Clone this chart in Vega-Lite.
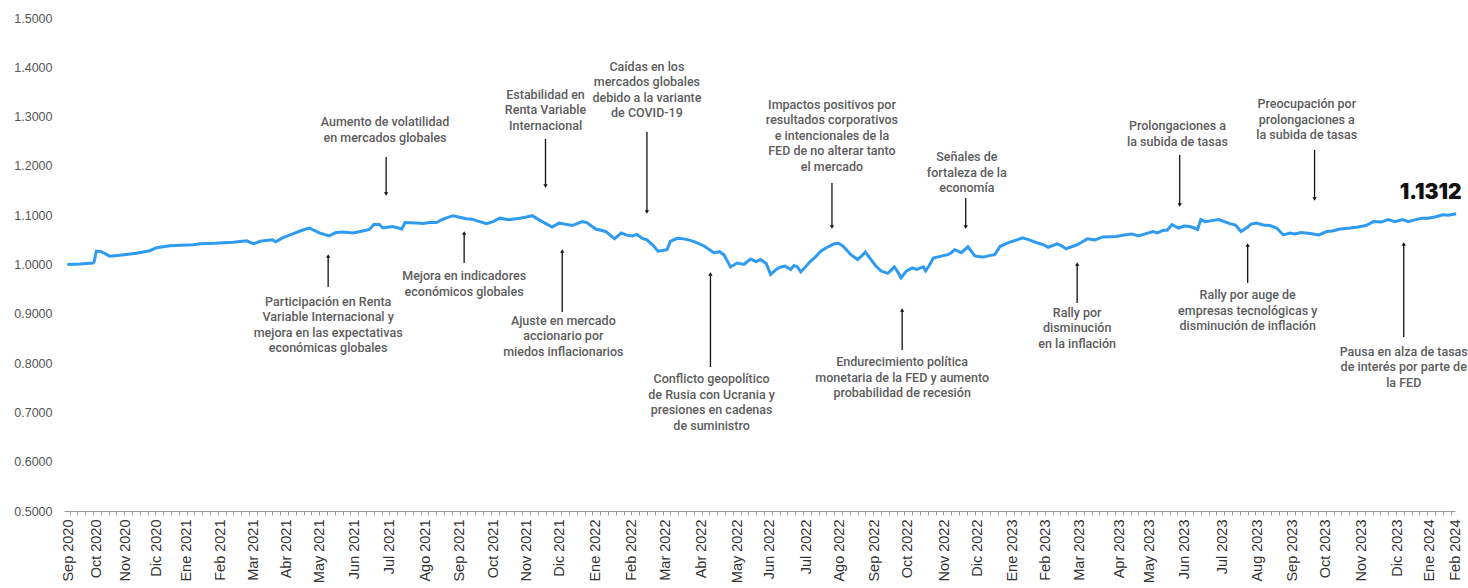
{
  "$schema": "https://vega.github.io/schema/vega-lite/v6.json",
  "width": 1391,
  "height": 493,
  "autosize": {"type": "none"},
  "padding": {"left": 64, "top": 18, "right": 13, "bottom": 77},
  "background": "white",
  "config": {
    "view": {"stroke": null},
    "axisY": {
      "title": null,
      "grid": false,
      "domain": false,
      "ticks": false,
      "values": [0.5,0.6,0.7,0.8,0.9,1.0,1.1,1.2,1.3,1.4,1.5],
      "format": ".4f",
      "labelPadding": 12,
      "labelFont": "Liberation Sans",
      "labelFontSize": 12.5,
      "labelColor": "#555555"
    }
  },
  "datasets": {
    "serie": [
      {"d":"2020-09-04","v":1.000},{"d":"2020-09-15","v":1.001},{"d":"2020-09-27","v":1.003},{"d":"2020-09-28","v":1.005},
      {"d":"2020-09-30","v":1.027},{"d":"2020-10-03","v":1.027},{"d":"2020-10-07","v":1.023},{"d":"2020-10-12","v":1.017},
      {"d":"2020-10-25","v":1.020},{"d":"2020-11-05","v":1.023},{"d":"2020-11-17","v":1.028},{"d":"2020-11-23","v":1.034},
      {"d":"2020-12-05","v":1.038},{"d":"2020-12-15","v":1.039},{"d":"2020-12-26","v":1.040},{"d":"2021-01-01","v":1.042},{"d":"2021-01-15","v":1.043},
      {"d":"2021-01-22","v":1.044},{"d":"2021-01-31","v":1.045},{"d":"2021-02-12","v":1.048},{"d":"2021-02-18","v":1.042},{"d":"2021-02-24","v":1.047},
      {"d":"2021-03-07","v":1.050},{"d":"2021-03-10","v":1.046},{"d":"2021-03-16","v":1.054},{"d":"2021-03-23","v":1.060},
      {"d":"2021-04-02","v":1.069},{"d":"2021-04-09","v":1.074},{"d":"2021-04-18","v":1.064},{"d":"2021-04-27","v":1.058},
      {"d":"2021-05-03","v":1.065},{"d":"2021-05-10","v":1.066},{"d":"2021-05-18","v":1.064},{"d":"2021-05-25","v":1.067},{"d":"2021-06-02","v":1.071},{"d":"2021-06-06","v":1.081},
      {"d":"2021-06-11","v":1.081},{"d":"2021-06-14","v":1.074},{"d":"2021-06-23","v":1.077},{"d":"2021-07-01","v":1.072},
      {"d":"2021-07-04","v":1.085},{"d":"2021-07-14","v":1.084},{"d":"2021-07-20","v":1.083},{"d":"2021-07-26","v":1.085},{"d":"2021-08-01","v":1.085},{"d":"2021-08-07","v":1.092},
      {"d":"2021-08-16","v":1.099},{"d":"2021-08-22","v":1.096},{"d":"2021-08-28","v":1.093},{"d":"2021-09-02","v":1.092},{"d":"2021-09-06","v":1.089},{"d":"2021-09-15","v":1.083},
      {"d":"2021-09-21","v":1.087},{"d":"2021-09-27","v":1.094},{"d":"2021-10-05","v":1.091},{"d":"2021-10-15","v":1.094},{"d":"2021-10-20","v":1.096},{"d":"2021-10-26","v":1.099},
      {"d":"2021-11-04","v":1.087},{"d":"2021-11-13","v":1.076},{"d":"2021-11-19","v":1.084},{"d":"2021-12-01","v":1.079},
      {"d":"2021-12-10","v":1.087},{"d":"2021-12-14","v":1.085},{"d":"2021-12-22","v":1.072},{"d":"2021-12-31","v":1.067},
      {"d":"2022-01-08","v":1.052},{"d":"2022-01-14","v":1.064},{"d":"2022-01-18","v":1.060},{"d":"2022-01-24","v":1.058},{"d":"2022-01-28","v":1.061},{"d":"2022-02-02","v":1.053},{"d":"2022-02-06","v":1.050},
      {"d":"2022-02-11","v":1.040},{"d":"2022-02-16","v":1.027},{"d":"2022-02-24","v":1.030},{"d":"2022-02-27","v":1.047},
      {"d":"2022-03-05","v":1.053},{"d":"2022-03-11","v":1.052},{"d":"2022-03-17","v":1.049},{"d":"2022-03-22","v":1.045},{"d":"2022-03-29","v":1.038},{"d":"2022-04-07","v":1.024},
      {"d":"2022-04-12","v":1.026},{"d":"2022-04-16","v":1.020},{"d":"2022-04-22","v":0.995},{"d":"2022-04-28","v":1.003},{"d":"2022-05-04","v":1.000},
      {"d":"2022-05-10","v":1.011},{"d":"2022-05-15","v":1.006},{"d":"2022-05-19","v":1.010},{"d":"2022-05-24","v":1.002},{"d":"2022-05-28","v":0.980},{"d":"2022-06-02","v":0.990},{"d":"2022-06-06","v":0.995},
      {"d":"2022-06-10","v":0.997},{"d":"2022-06-15","v":0.990},{"d":"2022-06-18","v":0.998},{"d":"2022-06-21","v":0.995},{"d":"2022-06-24","v":0.985},{"d":"2022-07-03","v":1.007},
      {"d":"2022-07-07","v":1.015},{"d":"2022-07-12","v":1.027},{"d":"2022-07-17","v":1.034},{"d":"2022-07-24","v":1.042},{"d":"2022-07-28","v":1.043},{"d":"2022-08-01","v":1.037},{"d":"2022-08-04","v":1.030},{"d":"2022-08-08","v":1.020},
      {"d":"2022-08-14","v":1.010},{"d":"2022-08-18","v":1.018},{"d":"2022-08-21","v":1.025},{"d":"2022-08-26","v":1.010},{"d":"2022-08-30","v":0.998},{"d":"2022-09-04","v":0.987},
      {"d":"2022-09-10","v":0.982},{"d":"2022-09-13","v":0.988},{"d":"2022-09-16","v":0.995},{"d":"2022-09-19","v":0.985},{"d":"2022-09-22","v":0.973},{"d":"2022-09-27","v":0.987},
      {"d":"2022-10-02","v":0.993},{"d":"2022-10-06","v":0.990},{"d":"2022-10-12","v":0.995},{"d":"2022-10-14","v":0.987},{"d":"2022-10-17","v":0.997},
      {"d":"2022-10-21","v":1.013},{"d":"2022-10-28","v":1.017},{"d":"2022-11-03","v":1.020},{"d":"2022-11-06","v":1.024},{"d":"2022-11-09","v":1.030},
      {"d":"2022-11-15","v":1.024},{"d":"2022-11-21","v":1.036},{"d":"2022-11-27","v":1.018},{"d":"2022-11-30","v":1.016},{"d":"2022-12-05","v":1.015},{"d":"2022-12-10","v":1.018},
      {"d":"2022-12-15","v":1.020},{"d":"2022-12-20","v":1.037},{"d":"2022-12-28","v":1.045},{"d":"2023-01-04","v":1.050},{"d":"2023-01-09","v":1.054},
      {"d":"2023-01-15","v":1.050},{"d":"2023-01-22","v":1.044},{"d":"2023-01-28","v":1.040},{"d":"2023-02-01","v":1.035},{"d":"2023-02-09","v":1.042},
      {"d":"2023-02-13","v":1.038},{"d":"2023-02-17","v":1.032},{"d":"2023-02-22","v":1.036},{"d":"2023-02-27","v":1.040},{"d":"2023-03-03","v":1.045},{"d":"2023-03-08","v":1.052},{"d":"2023-03-15","v":1.050},{"d":"2023-03-22","v":1.056},
      {"d":"2023-04-03","v":1.057},{"d":"2023-04-10","v":1.060},{"d":"2023-04-17","v":1.062},{"d":"2023-04-23","v":1.058},{"d":"2023-04-29","v":1.062},{"d":"2023-05-06","v":1.067},
      {"d":"2023-05-10","v":1.064},{"d":"2023-05-15","v":1.069},{"d":"2023-05-19","v":1.070},{"d":"2023-05-23","v":1.081},{"d":"2023-05-29","v":1.074},{"d":"2023-06-03","v":1.078},{"d":"2023-06-08","v":1.077},
      {"d":"2023-06-12","v":1.074},{"d":"2023-06-15","v":1.071},{"d":"2023-06-18","v":1.091},{"d":"2023-06-22","v":1.087},{"d":"2023-06-28","v":1.089},{"d":"2023-07-04","v":1.091},
      {"d":"2023-07-08","v":1.088},{"d":"2023-07-14","v":1.083},{"d":"2023-07-19","v":1.080},{"d":"2023-07-24","v":1.067},{"d":"2023-07-30","v":1.076},{"d":"2023-08-02","v":1.082},{"d":"2023-08-07","v":1.084},
      {"d":"2023-08-13","v":1.080},{"d":"2023-08-19","v":1.079},{"d":"2023-08-25","v":1.074},{"d":"2023-08-31","v":1.060},{"d":"2023-09-06","v":1.064},{"d":"2023-09-10","v":1.062},
      {"d":"2023-09-16","v":1.065},{"d":"2023-09-24","v":1.063},{"d":"2023-10-02","v":1.060},{"d":"2023-10-09","v":1.067},{"d":"2023-10-14","v":1.068},{"d":"2023-10-21","v":1.072},
      {"d":"2023-10-30","v":1.074},{"d":"2023-11-06","v":1.076},{"d":"2023-11-13","v":1.079},{"d":"2023-11-20","v":1.087},{"d":"2023-11-27","v":1.086},{"d":"2023-12-03","v":1.091},{"d":"2023-12-09","v":1.087},
      {"d":"2023-12-16","v":1.091},{"d":"2023-12-21","v":1.087},{"d":"2023-12-26","v":1.090},{"d":"2024-01-02","v":1.094},{"d":"2024-01-08","v":1.094},{"d":"2024-01-15","v":1.097},
      {"d":"2024-01-21","v":1.101},{"d":"2024-01-26","v":1.100},{"d":"2024-02-02","v":1.103}
    ],
    "flechas": [
      {"d":"2021-06-17","y1":1.2181,"y2":1.1430,"s":"triangle-down"},
      {"d":"2021-04-26","y1":0.9544,"y2":1.0173,"s":"triangle-up"},
      {"d":"2021-08-26","y1":1.0030,"y2":1.0639,"s":"triangle-up"},
      {"d":"2021-11-07","y1":1.2546,"y2":1.1592,"s":"triangle-down"},
      {"d":"2022-02-06","y1":1.2688,"y2":1.1065,"s":"triangle-down"},
      {"d":"2021-11-22","y1":0.9037,"y2":1.0274,"s":"triangle-up"},
      {"d":"2022-04-04","y1":0.7921,"y2":0.9808,"s":"triangle-up"},
      {"d":"2022-07-22","y1":1.1653,"y2":1.0760,"s":"triangle-down"},
      {"d":"2022-09-23","y1":0.8266,"y2":0.9077,"s":"triangle-up"},
      {"d":"2022-11-19","y1":1.1349,"y2":1.0760,"s":"triangle-down"},
      {"d":"2023-02-27","y1":0.9219,"y2":1.0010,"s":"triangle-up"},
      {"d":"2023-05-30","y1":1.2221,"y2":1.1207,"s":"triangle-down"},
      {"d":"2023-07-30","y1":0.9625,"y2":1.0396,"s":"triangle-up"},
      {"d":"2023-09-28","y1":1.2323,"y2":1.1328,"s":"triangle-down"},
      {"d":"2023-12-17","y1":0.8529,"y2":1.0416,"s":"triangle-up"}
    ],
    "notas": [
      {"d":"2021-06-16","y":1.3012,"t":"Aumento de volatilidad\nen mercados globales"},
      {"d":"2021-04-26","y":0.9367,"t":"Participación en Renta\nVariable Internacional y\nmejora en las expectativas\neconómicas globales"},
      {"d":"2021-08-26","y":0.9888,"t":"Mejora en indicadores\neconómicos globales"},
      {"d":"2021-11-07","y":1.3560,"t":"Estabilidad en\nRenta Variable\nInternacional"},
      {"d":"2022-02-06","y":1.4128,"t":"Caídas en los\nmercados globales\ndebido a la variante\nde COVID-19"},
      {"d":"2021-11-23","y":0.8976,"t":"Ajuste en mercado\naccionario por\nmiedos inflacionarios"},
      {"d":"2022-04-05","y":0.7799,"t":"Conflicto geopolítico\nde Rusia con Ucrania y\npresiones en cadenas\nde suministro"},
      {"d":"2022-07-22","y":1.3357,"t":"Impactos positivos por\nresultados corporativos\ne  intencionales de la\nFED de no alterar tanto\nel mercado"},
      {"d":"2022-09-23","y":0.8144,"t":"Endurecimiento política\nmonetaria de la FED y aumento\nprobabilidad de recesión"},
      {"d":"2022-11-20","y":1.2302,"t":"Señales de\nfortaleza de la\neconomía"},
      {"d":"2023-02-27","y":0.9138,"t":"Rally por\ndisminución\nen la inflación"},
      {"d":"2023-05-28","y":1.2931,"t":"Prolongaciones a\nla subida de tasas"},
      {"d":"2023-07-30","y":0.9503,"t":"Rally por auge de\nempresas tecnológicas y\ndisminución de inflación"},
      {"d":"2023-09-21","y":1.3377,"t":"Preocupación por\nprolongaciones a\nla subida de tasas"},
      {"d":"2023-12-17","y":0.8347,"t":"Pausa en alza de tasas\nde interés por parte de\nla FED"}
    ],
    "valor": [
      {"d":"2024-02-07","y":1.145,"t":"1.1312"}
    ]
  },
  "layer": [
    {
      "data": {"name": "serie"},
      "mark": {"type": "line", "color": "#2E9BF0", "strokeWidth": 3, "interpolate": "linear"},
      "encoding": {
        "x": {
          "field": "d", "type": "temporal",
          "scale": {"domain": [{"year":2020,"month":9,"date":1},{"year":2024,"month":2,"date":1}]},
          "axis": {
            "orient": "bottom",
            "title": null,
            "grid": false,
            "domain": false,
            "ticks": false,
            "labelAngle": 270,
            "labelAlign": "right",
            "labelBaseline": "middle",
            "labelPadding": 8,
            "labelFont": "Liberation Sans",
            "labelFontSize": 14.5,
            "labelColor": "#333333",
            "labelOverlap": false,
            "labelBound": false,
            "labelFlush": false,
            "values": [
              {"year":2020,"month":9,"date":5},{"year":2020,"month":9,"date":30},{"year":2020,"month":10,"date":26},{"year":2020,"month":11,"date":23},
              {"year":2020,"month":12,"date":20},{"year":2021,"month":1,"date":19},{"year":2021,"month":2,"date":18},{"year":2021,"month":3,"date":20},
              {"year":2021,"month":4,"date":18},{"year":2021,"month":5,"date":20},{"year":2021,"month":6,"date":20},{"year":2021,"month":7,"date":22},
              {"year":2021,"month":8,"date":22},{"year":2021,"month":9,"date":21},{"year":2021,"month":10,"date":21},{"year":2021,"month":11,"date":20},
              {"year":2021,"month":12,"date":22},{"year":2022,"month":1,"date":23},{"year":2022,"month":2,"date":23},{"year":2022,"month":3,"date":27},
              {"year":2022,"month":4,"date":28},{"year":2022,"month":5,"date":27},{"year":2022,"month":6,"date":29},{"year":2022,"month":7,"date":29},
              {"year":2022,"month":8,"date":29},{"year":2022,"month":9,"date":28},{"year":2022,"month":10,"date":31},{"year":2022,"month":11,"date":30},
              {"year":2022,"month":12,"date":31},{"year":2023,"month":1,"date":30},{"year":2023,"month":3,"date":1},{"year":2023,"month":4,"date":6},
              {"year":2023,"month":5,"date":3},{"year":2023,"month":6,"date":3},{"year":2023,"month":7,"date":7},{"year":2023,"month":8,"date":8},
              {"year":2023,"month":9,"date":8},{"year":2023,"month":10,"date":8},{"year":2023,"month":11,"date":9},{"year":2023,"month":12,"date":11},
              {"year":2024,"month":1,"date":9},{"year":2024,"month":2,"date":1}
            ],
            "labelExpr": "['Sep 2020','Oct 2020','Nov 2020','Dic 2020','Ene 2021','Feb 2021','Mar 2021','Abr 2021','May 2021','Jun 2021','Jul 2021','Ago 2021','Sep 2021','Oct 2021','Nov 2021','Dic 2021','Ene 2022','Feb 2022','Mar 2022','Abr 2022','May 2022','Jun 2022','Jul 2022','Ago 2022','Sep 2022','Oct 2022','Nov 2022','Dic 2022','Ene 2023','Feb 2023','Mar 2023','Apr 2023','May 2023','Jun 2023','Jul 2023','Aug 2023','Sep 2023','Oct 2023','Nov 2023','Dic 2023','Ene 2024','Feb 2024'][round(datum.index*41)]"
          }
        },
        "y": {
          "field": "v", "type": "quantitative", "title": null,
          "scale": {"domain": [0.5, 1.5], "nice": false, "zero": false}
        }
      }
    },
    {
      "data": {"name": "flechas"},
      "mark": {"type": "rule", "color": "#111111", "strokeWidth": 1.3},
      "encoding": {
        "x": {
          "field": "d", "type": "temporal",
          "scale": {"domain": [{"year":2020,"month":9,"date":1},{"year":2024,"month":2,"date":1}]},
          "axis": {
            "orient": "bottom",
            "title": null,
            "grid": false,
            "labels": false,
            "domain": true,
            "domainColor": "#9a9a9a",
            "ticks": true,
            "tickColor": "#9a9a9a",
            "tickSize": 4,
            "tickCount": {"interval": "week", "step": 1}
          }
        },
        "y": {"field": "y1", "type": "quantitative", "title": null, "scale": {"domain": [0.5, 1.5], "nice": false, "zero": false}},
        "y2": {"field": "y2"}
      }
    },
    {
      "data": {"name": "flechas"},
      "mark": {"type": "point", "filled": true, "color": "#111111", "size": 18, "opacity": 1, "strokeWidth": 0},
      "encoding": {
        "x": {"field": "d", "type": "temporal", "scale": {"domain": [{"year":2020,"month":9,"date":1},{"year":2024,"month":2,"date":1}]}, "axis": null},
        "y": {"field": "y2", "type": "quantitative", "title": null, "scale": {"domain": [0.5, 1.5], "nice": false, "zero": false}},
        "shape": {"field": "s", "type": "nominal", "scale": null, "legend": null}
      }
    },
    {
      "data": {"name": "notas"},
      "mark": {"type": "text", "align": "center", "baseline": "top", "lineBreak": "\n", "lineHeight": 15.5, "font": "Roboto", "fontSize": 12.5, "fontWeight": 500, "color": "#5c5c5c"},
      "encoding": {
        "x": {"field": "d", "type": "temporal", "scale": {"domain": [{"year":2020,"month":9,"date":1},{"year":2024,"month":2,"date":1}]}, "axis": null},
        "y": {"field": "y", "type": "quantitative", "title": null, "scale": {"domain": [0.5, 1.5], "nice": false, "zero": false}},
        "text": {"field": "t"}
      }
    },
    {
      "data": {"name": "valor"},
      "mark": {"type": "text", "align": "right", "baseline": "middle", "font": "Inter", "fontSize": 21, "fontWeight": 900, "color": "#111111"},
      "encoding": {
        "x": {"field": "d", "type": "temporal", "scale": {"domain": [{"year":2020,"month":9,"date":1},{"year":2024,"month":2,"date":1}]}, "axis": null},
        "y": {"field": "y", "type": "quantitative", "title": null, "scale": {"domain": [0.5, 1.5], "nice": false, "zero": false}},
        "text": {"field": "t"}
      }
    }
  ],
  "resolve": {"axis": {"x": "independent"}}
}
